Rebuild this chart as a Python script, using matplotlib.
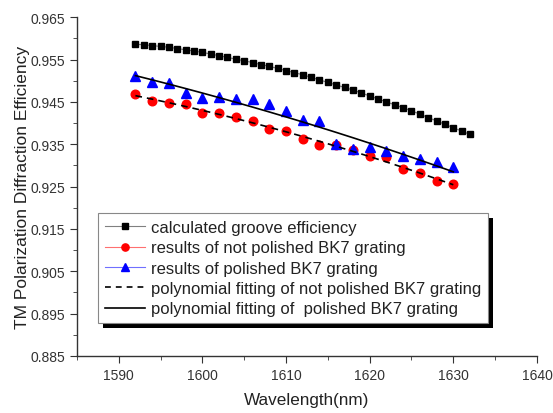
import numpy as np
import matplotlib
matplotlib.use("Agg")
import matplotlib.pyplot as plt
from matplotlib.ticker import MultipleLocator, FormatStrFormatter
from matplotlib.lines import Line2D
from matplotlib.patches import Rectangle

plt.rcParams['font.family'] = ['Liberation Sans', 'DejaVu Sans']

# calculated groove efficiency, 1 nm step
calc_wl = list(range(1592, 1633))
calc_eff = [0.9586, 0.9585, 0.9583, 0.9581, 0.9579, 0.9576, 0.9573, 0.9570,
            0.9567, 0.9563, 0.9559, 0.9555, 0.9551, 0.9547, 0.9543, 0.9538,
            0.9534, 0.9529, 0.9524, 0.9519, 0.9514, 0.9508, 0.9502, 0.9496,
            0.9490, 0.9484, 0.9478, 0.9471, 0.9464, 0.9457, 0.9450, 0.9443,
            0.9436, 0.9429, 0.9421, 0.9413, 0.9405, 0.9397, 0.9389, 0.9381,
            0.9373]

# measured, 2 nm step
meas_wl = list(range(1592, 1631, 2))
not_polished = [0.9468, 0.9451, 0.9448, 0.9444, 0.9423, 0.9423, 0.9415, 0.9405,
                0.9386, 0.9382, 0.9362, 0.9347, 0.9347, 0.9336, 0.9322, 0.9320,
                0.9292, 0.9282, 0.9263, 0.9255]
polished = [0.9511, 0.9498, 0.9495, 0.9470, 0.9460, 0.9461, 0.9457, 0.9456,
            0.9444, 0.9428, 0.9407, 0.9404, 0.9350, 0.9338, 0.9343, 0.9334,
            0.9322, 0.9314, 0.9308, 0.9296]

labels = ["calculated groove efficiency",
          "results of not polished BK7 grating",
          "results of polished BK7 grating",
          "polynomial fitting of not polished BK7 grating",
          "polynomial fitting of  polished BK7 grating"]

# polynomial fits of the measured data
wl = np.array(meas_wl, dtype=float)
fit_np = np.polyval(np.polyfit(wl - 1610, not_polished, 2), wl - 1610)
fit_p = np.polyval(np.polyfit(wl - 1610, polished, 2), wl - 1610)

fig = plt.figure(figsize=(5.53, 4.14), dpi=100)
ax = fig.add_axes([0.139, 0.138, 0.832, 0.818])

ax.plot(calc_wl, calc_eff, color='gray', lw=0.8, marker='s', ms=5.0,
        mfc='black', mec='black')
ax.plot(meas_wl, not_polished, ls='none', marker='o', ms=6.2,
        mfc='red', mec='red')
ax.plot(meas_wl, polished, ls='none', marker='^', ms=6.5,
        mfc='blue', mec='blue')
ax.plot(meas_wl, fit_np, color='black', lw=1.2, ls=(0, (4, 3)))
ax.plot(meas_wl, fit_p, color='black', lw=1.2)

# legend handles
handles = [
    Line2D([], [], color='gray', lw=0.8, marker='s', ms=3.8, mfc='black', mec='black'),
    Line2D([], [], color='#ff7070', lw=0.8, marker='o', ms=5.2, mfc='red', mec='red'),
    Line2D([], [], color='#7070ff', lw=0.8, marker='^', ms=5.2, mfc='blue', mec='blue'),
    Line2D([], [], color='black', lw=1.2, ls=(0, (3.5, 3))),
    Line2D([], [], color='black', lw=1.2),
]

leg = ax.legend(handles, labels, loc='lower left', bbox_to_anchor=(0.046, 0.097),
                fontsize=12, frameon=True, fancybox=False, framealpha=1,
                edgecolor='#888888', handlelength=2.4, handletextpad=0.4,
                labelspacing=0.32, borderpad=0.4, borderaxespad=0)
leg.get_frame().set_linewidth(0.8)
leg.set_zorder(6)
for t in leg.get_texts():
    t.set_color('#222222')

ax.set_xlim(1585, 1640)
ax.set_ylim(0.885, 0.965)
ax.xaxis.set_major_locator(MultipleLocator(10))
ax.xaxis.set_minor_locator(MultipleLocator(5))
ax.yaxis.set_minor_locator(MultipleLocator(0.005))
ax.yaxis.set_major_formatter(FormatStrFormatter('%.3f'))
ax.set_yticks(np.arange(0.885, 0.9651, 0.01))

for s in ['top', 'right']:
    ax.spines[s].set_visible(False)
for s in ['left', 'bottom']:
    ax.spines[s].set_color('#333333')
    ax.spines[s].set_linewidth(1.0)
ax.tick_params(which='both', direction='out', colors='#333333', labelsize=10)
ax.tick_params(which='major', length=5)
ax.tick_params(which='minor', length=3)
ax.tick_params(axis='x', pad=4)

ax.set_xlabel("Wavelength(nm)", fontsize=12.3, color='#222222', labelpad=7)
ax.set_ylabel("TM Polarization Diffraction Efficiency", fontsize=12.5,
              color='#222222', labelpad=0)

# solid black drop shadow behind the legend box
fig.canvas.draw()
bb = leg.get_window_extent()
inv = fig.transFigure.inverted()
(x0, y0), (x1, y1) = inv.transform([(bb.x0 + 5, bb.y0 - 5), (bb.x1 + 5, bb.y1 - 5)])
shadow = Rectangle((x0, y0), x1 - x0, y1 - y0, transform=fig.transFigure,
                   facecolor='black', edgecolor='none', zorder=5)
fig.add_artist(shadow)
leg.remove()
fig.add_artist(leg)

fig.savefig("out.png", dpi=100)
